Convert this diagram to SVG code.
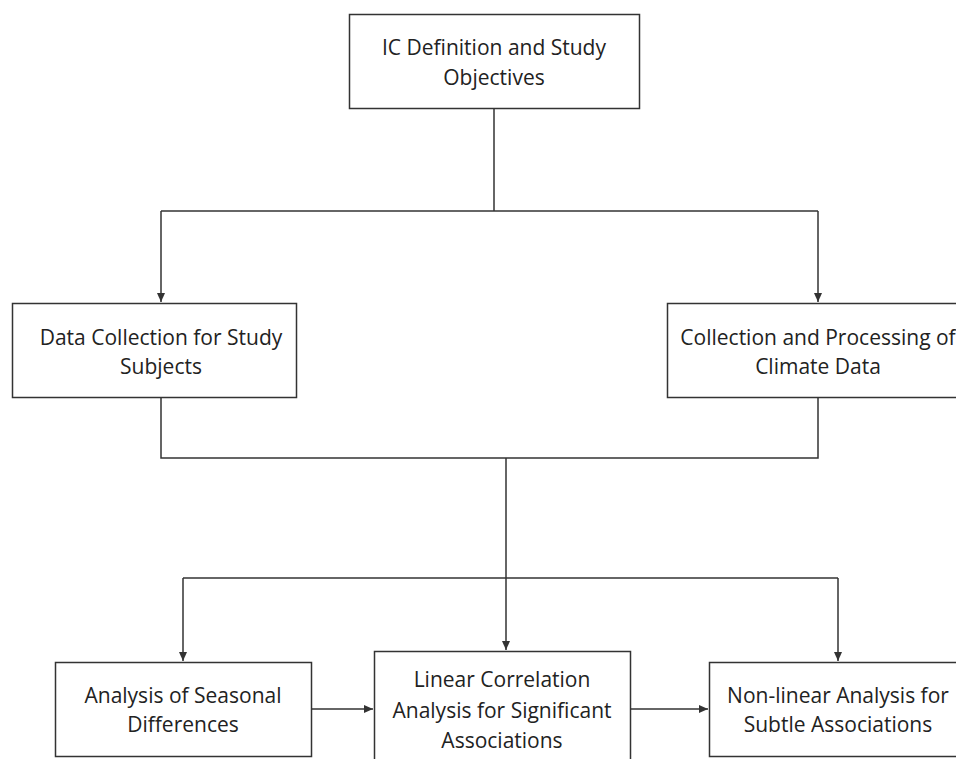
<svg xmlns="http://www.w3.org/2000/svg" width="956" height="759" viewBox="0 0 956 759">
<defs>
<marker id="ah" markerWidth="10" markerHeight="10" refX="9" refY="5" orient="auto" markerUnits="userSpaceOnUse">
<path d="M0,1 L9,5 L0,9 Z" fill="#333"/>
</marker>
<style>
.box{fill:#fff;stroke:#333;stroke-width:1.5}
.t{font-family:"Open Sans","Noto Sans","DejaVu Sans",sans-serif;font-size:21px;fill:#222;text-anchor:middle}
.c{fill:none;stroke:#333;stroke-width:1.5}
</style>
</defs>
<rect width="956" height="759" fill="#fff"/>
<g id="connectors">
<polyline class="c" points="494,108 494,211"/>
<polyline class="c" points="161,211 818,211"/>
<polyline class="c" points="161,211 161,302" marker-end="url(#ah)"/>
<polyline class="c" points="818,211 818,302" marker-end="url(#ah)"/>
<polyline class="c" points="161,398 161,458 818,458 818,398"/>
<polyline class="c" points="506,458 506,650" marker-end="url(#ah)"/>
<polyline class="c" points="183,578 838,578"/>
<polyline class="c" points="183,578 183,661" marker-end="url(#ah)"/>
<polyline class="c" points="838,578 838,661" marker-end="url(#ah)"/>
<polyline class="c" points="311,709 373,709" marker-end="url(#ah)"/>
<polyline class="c" points="630,709 708,709" marker-end="url(#ah)"/>
</g>
<g id="n1">
<rect class="box" x="349.5" y="14.5" width="290" height="94"/>
<text class="t" x="494" y="55">IC Definition and Study</text>
<text class="t" x="494" y="85">Objectives</text>
</g>
<g id="n2">
<rect class="box" x="12.5" y="303.5" width="284" height="94"/>
<text class="t" x="161" y="345">Data Collection for Study</text>
<text class="t" x="161" y="374">Subjects</text>
</g>
<g id="n3">
<rect class="box" x="667.5" y="303.5" width="302" height="94"/>
<text class="t" x="818" y="345">Collection and Processing of</text>
<text class="t" x="818" y="374">Climate Data</text>
</g>
<g id="n4">
<rect class="box" x="55.5" y="662.5" width="256" height="94"/>
<text class="t" x="183" y="703">Analysis of Seasonal</text>
<text class="t" x="183" y="732">Differences</text>
</g>
<g id="n5">
<rect class="box" x="374.5" y="651.5" width="256" height="120"/>
<text class="t" x="502" y="687">Linear Correlation</text>
<text class="t" x="502" y="718">Analysis for Significant</text>
<text class="t" x="502" y="748">Associations</text>
</g>
<g id="n6">
<rect class="box" x="709.5" y="662.5" width="258" height="94"/>
<text class="t" x="838" y="703">Non-linear Analysis for</text>
<text class="t" x="838" y="732">Subtle Associations</text>
</g>
</svg>
